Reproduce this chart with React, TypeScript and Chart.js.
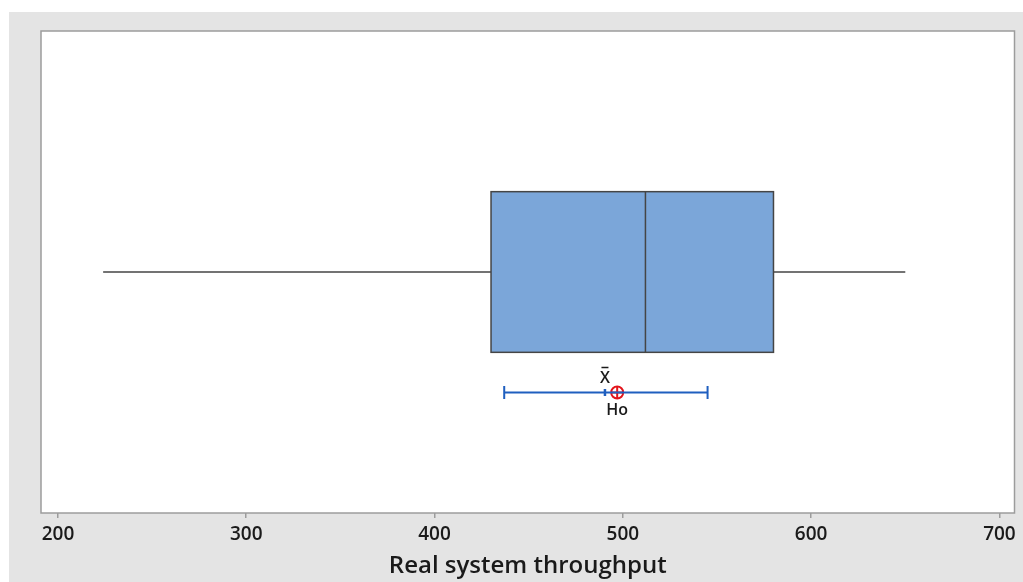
import React, { useEffect, useRef } from 'react';
import { Chart, registerables } from 'chart.js';

Chart.register(...registerables);

const axisTitle = 'Real system throughput';
const xTicks = [200, 300, 400, 500, 600, 700];
const xRange = [191, 708];
const whiskerLow = [224];
const q1 = [430];
const median = [512];
const q3 = [580];
const whiskerHigh = [650];
const meanValue = [490.5];
const ciLow = [437];
const ciHigh = [545];
const hypothesized = [497];
const boxLevel = [0.5];
const ciLevel = [0.25];
const meanLabel = 'X';
const hoLabel = 'Ho';

const FONT = '"Open Sans", "Noto Sans", sans-serif';
const BOX_HALF = 1 / 6;

const boxPlugin = {
  id: 'boxPlot',
  beforeDraw(chart: any) {
    const { ctx, chartArea } = chart;
    ctx.save();
    ctx.fillStyle = '#ffffff';
    ctx.fillRect(chartArea.left, chartArea.top, chartArea.right - chartArea.left, chartArea.bottom - chartArea.top);
    ctx.restore();
  },
  beforeDatasetsDraw(chart: any) {
    const { ctx, scales } = chart;
    const x = scales.x;
    const y = scales.y;
    const l = x.getPixelForValue(q1[0]);
    const r = x.getPixelForValue(q3[0]);
    const t = y.getPixelForValue(boxLevel[0] + BOX_HALF);
    const b = y.getPixelForValue(boxLevel[0] - BOX_HALF);
    ctx.save();
    ctx.fillStyle = '#7ba6d9';
    ctx.fillRect(l, t, r - l, b - t);
    ctx.strokeStyle = '#454545';
    ctx.lineWidth = 1.5;
    ctx.strokeRect(l, t, r - l, b - t);
    const m = x.getPixelForValue(median[0]);
    ctx.beginPath();
    ctx.moveTo(m, t);
    ctx.lineTo(m, b);
    ctx.stroke();
    ctx.restore();
  },
  afterDatasetsDraw(chart: any) {
    const { ctx, scales } = chart;
    const x = scales.x;
    const y = scales.y;
    const cy = y.getPixelForValue(ciLevel[0]);
    const mx = x.getPixelForValue(meanValue[0]);
    const hx = x.getPixelForValue(hypothesized[0]);
    ctx.save();
    ctx.fillStyle = '#1a1a1a';
    ctx.textAlign = 'center';
    ctx.textBaseline = 'middle';
    ctx.font = `600 16px ${FONT}`;
    ctx.fillText(meanLabel, mx, cy - 14);
    ctx.strokeStyle = '#1a1a1a';
    ctx.lineWidth = 1.5;
    ctx.beginPath();
    ctx.moveTo(mx - 3.5, cy - 25);
    ctx.lineTo(mx + 3.5, cy - 25);
    ctx.stroke();
    ctx.font = `600 16px ${FONT}`;
    ctx.fillText(hoLabel, hx, cy + 18);
    ctx.restore();
  },
  afterDraw(chart: any) {
    const { ctx, chartArea } = chart;
    ctx.save();
    ctx.strokeStyle = '#9c9c9c';
    ctx.lineWidth = 1.5;
    ctx.strokeRect(chartArea.left, chartArea.top, chartArea.right - chartArea.left, chartArea.bottom - chartArea.top);
    ctx.restore();
  },
};

export default function App() {
  const ref = useRef<HTMLCanvasElement | null>(null);

  useEffect(() => {
    if (!ref.current) return;
    const chart = new Chart(ref.current, {
      type: 'scatter',
      data: {
        datasets: [
          {
            data: [
              { x: whiskerLow[0], y: boxLevel[0] },
              { x: q1[0], y: boxLevel[0] },
            ],
            showLine: true,
            borderColor: '#454545',
            borderWidth: 1.5,
            pointRadius: 0,
          },
          {
            data: [
              { x: q3[0], y: boxLevel[0] },
              { x: whiskerHigh[0], y: boxLevel[0] },
            ],
            showLine: true,
            borderColor: '#454545',
            borderWidth: 1.5,
            pointRadius: 0,
          },
          {
            data: [
              { x: ciLow[0], y: ciLevel[0] },
              { x: ciHigh[0], y: ciLevel[0] },
            ],
            showLine: true,
            borderColor: '#1f5fbf',
            borderWidth: 2,
            pointStyle: 'line',
            rotation: 90,
            pointRadius: 6.5,
            pointBorderColor: '#1f5fbf',
            pointBorderWidth: 2,
          },
          {
            data: [{ x: meanValue[0], y: ciLevel[0] }],
            pointStyle: 'line',
            rotation: 90,
            pointRadius: 3.5,
            pointBorderColor: '#1f5fbf',
            pointBorderWidth: 2.5,
          },
          {
            data: [{ x: hypothesized[0], y: ciLevel[0] }],
            pointStyle: 'circle',
            pointRadius: 6,
            pointBackgroundColor: 'rgba(255,255,255,0)',
            pointBorderColor: '#e3141b',
            pointBorderWidth: 2,
          },
          {
            data: [{ x: hypothesized[0], y: ciLevel[0] }],
            pointStyle: 'cross',
            pointRadius: 6,
            pointBorderColor: '#e3141b',
            pointBorderWidth: 2,
          },
        ],
      },
      options: {
        responsive: false,
        animation: false,
        devicePixelRatio: 1,
        layout: { padding: { left: 32, right: 8, top: 19, bottom: 0 } },
        plugins: { legend: { display: false }, tooltip: { enabled: false } },
        scales: {
          x: {
            type: 'linear',
            min: xRange[0],
            max: xRange[1],
            afterBuildTicks: (scale: any) => {
              scale.ticks = xTicks.map((v) => ({ value: v }));
            },
            afterFit: (scale: any) => {
              scale.height = 69;
              scale.paddingLeft = 0;
              scale.paddingRight = 0;
            },
            grid: {
              drawOnChartArea: false,
              drawTicks: true,
              tickLength: 5,
              color: '#9c9c9c',
              lineWidth: 1.5,
            },
            border: { display: false },
            ticks: {
              color: '#1a1a1a',
              font: { family: FONT, size: 19, weight: '600' },
              padding: 5,
              maxRotation: 0,
              autoSkip: false,
            },
            title: {
              display: true,
              text: axisTitle,
              color: '#1a1a1a',
              font: { family: FONT, size: 24, weight: '600' },
              padding: { top: 0, bottom: 1 },
            },
          },
          y: {
            type: 'linear',
            min: 0,
            max: 1,
            display: false,
          },
        },
      },
      plugins: [boxPlugin],
    } as any);
    return () => chart.destroy();
  }, []);

  return (
    <div
      style={{
        position: 'fixed',
        left: 9,
        top: 12,
        width: 1014,
        height: 570,
        background: '#e4e4e4',
      }}
    >
      <canvas ref={ref} width={1014} height={570} style={{ display: 'block' }} />
    </div>
  );
}
